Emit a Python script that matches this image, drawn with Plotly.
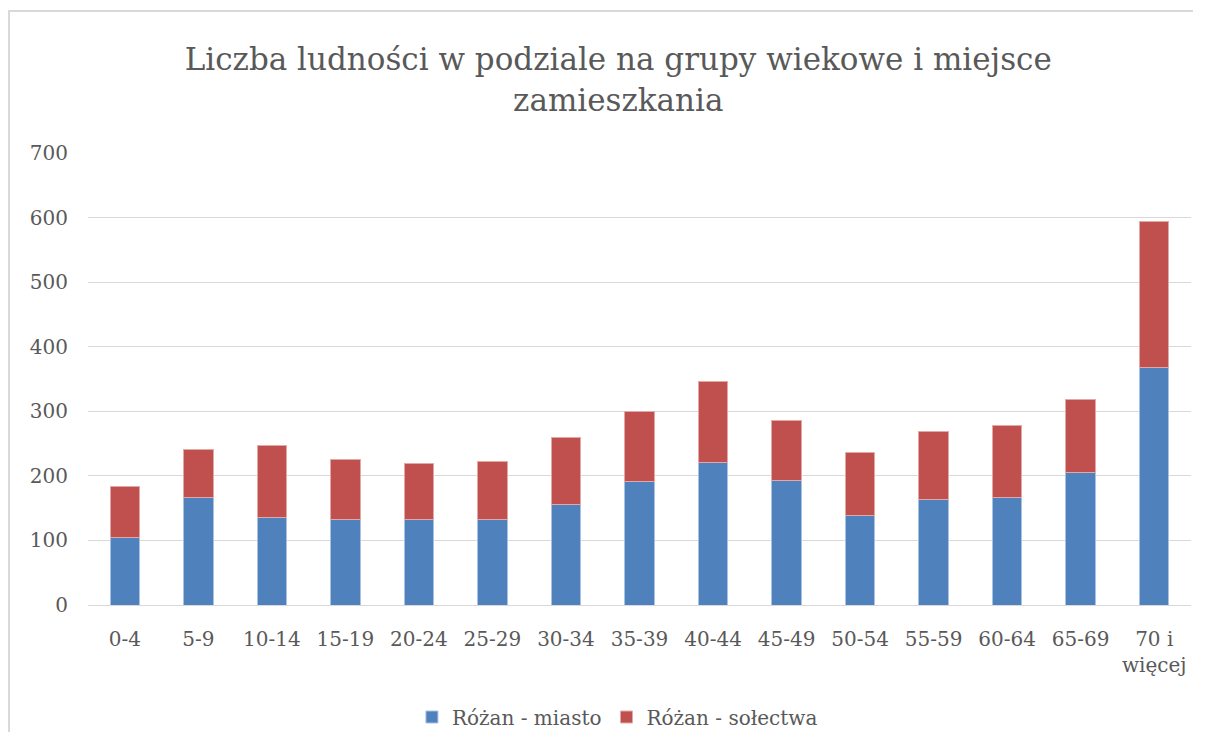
import plotly.graph_objects as go

categories = ['0-4', '5-9', '10-14', '15-19', '20-24', '25-29', '30-34', '35-39',
              '40-44', '45-49', '50-54', '55-59', '60-64', '65-69', '70 i<br>więcej']
miasto = [105, 167, 136, 133, 132, 133, 155, 191, 221, 193, 138, 164, 166, 205, 368]
solectwa = [78, 74, 111, 92, 87, 90, 105, 109, 125, 93, 98, 105, 112, 113, 226]
y_ticks = [0, 100, 200, 300, 400, 500, 600, 700]

font_family = "DejaVu Serif, Liberation Serif, serif"
text_color = '#595959'

fig = go.Figure()
fig.add_trace(go.Bar(
    x=categories, y=miasto, name='Różan - miasto',
    marker=dict(color='#4f81bd', line=dict(color='#a9c1e3', width=1)),
))
fig.add_trace(go.Bar(
    x=categories, y=solectwa, name='Różan - sołectwa',
    marker=dict(color='#c0504d', line=dict(color='#e3a9a8', width=1)),
))

# page body has an 8px margin, keep the figure inside the window (no scrollbars)
fig.update_layout(
    barmode='stack',
    bargap=0.6,
    width=1185,
    height=724,
    margin=dict(l=80, r=2, t=145, b=127),
    paper_bgcolor='white',
    plot_bgcolor='white',
    title=dict(
        text='Liczba ludności w podziale na grupy wiekowe i miejsce<br>zamieszkania',
        x=0.515, xanchor='center', y=0.914, yanchor='top',
        font=dict(family=font_family, size=31, color=text_color),
    ),
    legend=dict(
        orientation='h', x=0.48, xanchor='center',
        yref='container', y=0.0207, yanchor='middle',
        font=dict(family=font_family, size=20, color=text_color),
        traceorder='normal',
    ),
    shapes=[dict(
        type='path', xref='paper', yref='paper',
        path='M -0.0716,-0.6 L -0.0716,1.314 L 1.2,1.314',
        line=dict(color='#d9d9d9', width=2), layer='below',
    )],
)

fig.update_xaxes(
    showgrid=False,
    showline=True, linecolor='#d9d9d9', linewidth=1,
    ticks='',
    ticklabelstandoff=16,
    tickfont=dict(family=font_family, size=20, color=text_color),
)
fig.update_yaxes(
    range=[0, 700],
    tickvals=y_ticks,
    showgrid=True, gridcolor='#d9d9d9', gridwidth=1,
    zeroline=False,
    ticks='',
    ticklabelstandoff=19,
    tickfont=dict(family=font_family, size=20, color=text_color),
)

fig.write_html("out.html")
